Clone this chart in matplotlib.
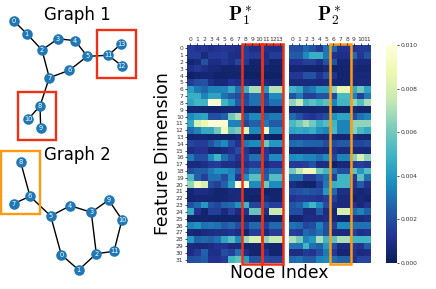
import numpy as np
import matplotlib
matplotlib.use('Agg')
import matplotlib.pyplot as plt
from matplotlib.patches import Rectangle

plt.rcParams['mathtext.fontset'] = 'cm'

# node layouts, in image pixels
g1_pos = {0: (14, 21), 1: (26.7, 33.7), 2: (42, 50), 3: (58, 38.7), 4: (75, 40.7),
          5: (87.3, 56.3), 6: (69.3, 70.3), 7: (49.3, 77.7), 8: (40, 106), 9: (40.7, 128.3),
          10: (28.3, 119), 11: (108.3, 55.3), 12: (121.7, 65.7), 13: (121.3, 43.7)}
g1_edges = [(0, 1), (1, 2), (2, 3), (3, 4), (4, 5), (5, 6), (6, 7), (7, 2), (7, 8),
            (8, 9), (8, 10), (5, 11), (11, 12), (11, 13)]

g2_pos = {0: (61.3, 254.7), 1: (78.7, 270), 2: (96.3, 253.7), 3: (91.3, 212.3), 4: (70.3, 205.7),
          5: (50.7, 216), 6: (30, 196.3), 7: (13.7, 203.7), 8: (20.7, 162.3), 9: (108.7, 200),
          10: (122, 219.7), 11: (114, 251.3)}
g2_edges = [(8, 6), (6, 7), (6, 5), (5, 4), (4, 3), (3, 9), (9, 10), (10, 11), (11, 2),
            (2, 3), (2, 1), (1, 0), (0, 5)]

# values in units of 1e-3
p1 = [
    [1.5, 1.2, 1.3, 1.0, 1.2, 1.3, 1.2, 1.0, 1.5, 1.0, 1.0, 1.2, 1.0, 1.0],
    [1.5, 1.5, 0.8, 1.4, 1.4, 1.5, 1.0, 0.9, 1.6, 1.4, 1.4, 0.9, 1.5, 1.5],
    [0.6, 0.8, 2.2, 0.9, 0.9, 1.3, 1.0, 1.8, 1.3, 0.5, 0.5, 1.0, 0.5, 0.5],
    [1.0, 1.3, 1.0, 0.7, 0.7, 0.5, 0.5, 0.6, 0.4, 0.4, 0.4, 0.5, 0.4, 0.4],
    [0.3, 0.5, 0.6, 0.6, 0.4, 0.4, 0.5, 0.5, 0.3, 0.3, 0.3, 0.3, 0.3, 0.3],
    [1.5, 2.0, 2.2, 1.0, 0.7, 0.7, 1.2, 1.0, 0.8, 0.6, 0.6, 0.8, 0.6, 0.6],
    [4.2, 3.2, 2.7, 3.4, 3.4, 3.5, 4.6, 3.0, 4.8, 7.0, 7.0, 4.0, 7.2, 7.2],
    [4.8, 4.8, 3.4, 4.4, 4.4, 3.0, 2.4, 2.0, 1.8, 3.0, 3.0, 1.8, 3.6, 3.6],
    [4.4, 5.0, 5.0, 9.8, 9.8, 5.0, 4.0, 2.4, 2.0, 3.0, 3.0, 2.0, 3.0, 3.0],
    [0.6, 0.6, 0.5, 0.5, 0.5, 0.5, 0.6, 0.6, 0.4, 0.3, 0.3, 0.4, 0.3, 0.3],
    [3.6, 4.2, 4.4, 2.0, 2.0, 2.6, 6.0, 7.0, 2.5, 3.6, 3.6, 2.8, 3.2, 3.2],
    [4.5, 8.0, 8.8, 9.8, 9.8, 9.6, 3.4, 3.4, 1.8, 2.6, 2.6, 3.2, 2.4, 2.4],
    [2.8, 3.4, 4.6, 4.6, 6.0, 9.0, 5.6, 6.2, 8.4, 3.6, 3.6, 9.0, 3.6, 3.6],
    [0.5, 0.6, 0.6, 0.5, 0.5, 0.4, 0.4, 0.6, 0.4, 0.3, 0.3, 0.5, 0.3, 0.3],
    [1.8, 1.5, 1.5, 2.2, 3.0, 3.6, 2.0, 1.2, 3.2, 3.6, 3.6, 6.0, 4.0, 4.0],
    [0.9, 1.2, 1.2, 0.6, 0.6, 0.8, 1.2, 2.0, 1.3, 0.6, 0.6, 1.3, 0.8, 0.8],
    [3.2, 2.0, 2.0, 3.6, 5.0, 3.0, 2.0, 1.2, 1.6, 3.0, 3.0, 1.6, 3.6, 3.6],
    [0.8, 0.8, 1.0, 1.4, 1.5, 1.0, 1.0, 0.8, 1.2, 1.5, 1.5, 0.8, 1.2, 1.2],
    [2.0, 2.5, 2.5, 3.2, 3.8, 3.8, 3.4, 2.4, 2.2, 3.2, 3.2, 2.2, 2.8, 2.8],
    [5.2, 2.6, 1.6, 3.0, 3.0, 2.0, 3.6, 1.2, 3.6, 5.5, 5.5, 2.5, 5.4, 5.4],
    [6.6, 9.0, 8.0, 2.0, 1.6, 2.6, 4.2, 9.8, 9.6, 3.6, 3.6, 6.0, 3.6, 3.6],
    [0.6, 0.9, 0.9, 0.7, 0.5, 0.5, 0.8, 0.8, 0.5, 0.6, 0.6, 0.4, 0.5, 0.5],
    [0.5, 0.6, 0.6, 0.6, 0.5, 0.6, 0.7, 0.8, 0.5, 0.4, 0.4, 0.8, 0.5, 0.5],
    [2.2, 2.8, 4.0, 2.2, 1.8, 2.6, 2.8, 3.8, 5.0, 1.8, 1.8, 2.2, 1.6, 1.6],
    [4.6, 1.2, 0.5, 1.6, 1.6, 0.8, 1.6, 0.8, 1.2, 5.8, 5.8, 1.0, 7.6, 7.6],
    [0.4, 0.4, 0.5, 0.4, 0.4, 0.4, 0.4, 0.4, 0.5, 0.4, 0.4, 0.4, 0.4, 0.4],
    [3.4, 3.8, 3.0, 3.2, 3.0, 2.4, 2.8, 2.0, 1.6, 2.8, 2.8, 1.6, 2.8, 2.8],
    [0.7, 0.6, 0.8, 0.9, 1.0, 1.0, 1.2, 0.9, 0.5, 1.5, 1.5, 0.8, 1.5, 1.5],
    [4.0, 2.6, 2.8, 2.6, 3.0, 4.4, 5.4, 3.6, 6.8, 8.0, 8.0, 6.6, 7.6, 7.6],
    [0.8, 0.7, 0.7, 0.9, 1.2, 1.2, 0.8, 0.8, 0.5, 0.5, 0.5, 0.7, 0.5, 0.5],
    [0.9, 1.4, 2.6, 1.0, 1.0, 2.0, 1.6, 3.0, 1.0, 0.5, 0.5, 1.2, 0.5, 0.5],
    [2.0, 2.2, 2.4, 1.2, 1.2, 1.5, 5.0, 5.6, 4.2, 2.2, 2.2, 2.0, 1.8, 1.8],
]

p2 = [
    [2.0, 2.0, 2.8, 2.2, 1.4, 3.0, 2.8, 1.2, 1.2, 1.2, 1.4, 1.4],
    [2.4, 2.4, 3.6, 4.8, 4.8, 3.2, 1.2, 1.0, 1.0, 2.8, 1.3, 2.2],
    [1.2, 1.2, 1.6, 1.6, 1.0, 2.2, 2.2, 0.6, 0.6, 1.0, 0.8, 0.8],
    [0.6, 0.6, 0.5, 0.5, 0.4, 0.7, 0.4, 0.5, 0.5, 0.7, 0.6, 0.6],
    [1.3, 1.3, 2.2, 2.2, 1.2, 2.0, 1.2, 0.5, 0.5, 0.8, 0.7, 0.7],
    [0.8, 0.8, 0.8, 0.8, 0.7, 0.8, 0.6, 0.5, 0.5, 0.7, 0.8, 0.8],
    [5.0, 4.5, 2.8, 3.2, 4.2, 4.2, 6.6, 8.6, 8.6, 4.6, 6.0, 4.4],
    [2.2, 3.2, 1.6, 1.6, 2.2, 2.2, 1.8, 5.2, 5.2, 3.4, 1.6, 3.2],
    [6.6, 7.6, 5.0, 5.6, 5.0, 5.6, 3.4, 5.0, 5.0, 6.6, 5.4, 7.0],
    [0.5, 0.5, 0.5, 0.5, 0.6, 0.6, 0.3, 0.4, 0.4, 0.7, 0.5, 0.5],
    [2.8, 2.2, 1.4, 1.2, 1.6, 2.0, 3.8, 4.4, 4.4, 2.0, 3.0, 3.4],
    [5.2, 6.0, 7.0, 6.0, 4.8, 5.4, 5.0, 3.4, 3.4, 6.6, 6.6, 6.6],
    [4.4, 4.6, 4.4, 4.8, 3.8, 3.4, 5.2, 3.4, 3.4, 6.4, 5.2, 4.6],
    [1.0, 1.0, 1.0, 1.0, 0.8, 0.8, 0.7, 0.6, 0.6, 0.8, 0.6, 0.6],
    [2.8, 3.0, 2.6, 2.6, 2.6, 2.0, 2.0, 2.4, 2.4, 1.8, 1.8, 2.0],
    [0.6, 0.6, 0.6, 0.6, 0.7, 0.7, 1.2, 0.8, 0.8, 0.7, 0.7, 0.7],
    [3.6, 3.8, 3.4, 3.4, 3.0, 3.6, 1.8, 3.4, 3.4, 6.4, 8.0, 6.6],
    [1.4, 1.4, 1.6, 2.2, 0.9, 1.0, 0.3, 0.7, 0.7, 1.4, 1.6, 1.3],
    [6.0, 7.4, 9.0, 9.0, 6.0, 5.0, 3.0, 2.0, 2.0, 5.6, 4.0, 5.4],
    [3.0, 3.0, 1.5, 1.5, 2.4, 3.0, 1.6, 5.0, 5.0, 1.5, 5.6, 3.0],
    [0.9, 0.6, 0.4, 0.4, 1.4, 3.2, 4.8, 5.0, 5.0, 1.2, 2.4, 1.2],
    [2.0, 2.2, 2.4, 2.2, 2.0, 4.0, 2.8, 1.0, 1.0, 0.8, 0.6, 0.8],
    [1.2, 1.4, 1.4, 1.3, 1.1, 1.6, 1.6, 0.8, 0.8, 0.5, 0.7, 0.5],
    [2.2, 2.6, 3.8, 5.0, 3.6, 2.0, 1.0, 0.8, 0.8, 1.2, 0.7, 1.2],
    [2.0, 2.0, 0.8, 0.8, 2.4, 0.9, 0.6, 8.0, 8.0, 2.8, 3.4, 2.6],
    [0.5, 0.5, 0.9, 0.9, 0.9, 1.0, 0.7, 0.4, 0.4, 1.0, 0.8, 1.0],
    [3.0, 2.8, 1.8, 2.0, 3.4, 2.0, 1.6, 3.6, 3.6, 3.0, 3.0, 3.0],
    [1.6, 1.4, 2.8, 2.4, 3.0, 2.0, 0.8, 0.8, 0.8, 1.6, 1.0, 1.2],
    [7.0, 6.0, 3.4, 4.0, 7.0, 5.0, 5.6, 7.0, 7.0, 5.0, 5.0, 5.0],
    [3.0, 3.0, 5.0, 3.0, 2.6, 4.0, 2.0, 0.8, 0.8, 1.4, 1.2, 2.4],
    [0.9, 0.9, 1.4, 1.2, 2.0, 3.2, 1.4, 0.6, 0.6, 1.2, 0.8, 0.9],
    [2.8, 3.0, 2.4, 2.4, 3.4, 3.6, 3.0, 2.6, 2.6, 1.2, 1.8, 1.8],
]

W, H = 436, 289
fig = plt.figure(figsize=(W / 100, H / 100), dpi=100)


def px_axes(x0, y0, x1, y1):
    return fig.add_axes([x0 / W, 1 - y1 / H, (x1 - x0) / W, (y1 - y0) / H])


# graphs on the left, drawn in pixel coordinates
bg = fig.add_axes([0, 0, 1, 1])
bg.set_xlim(0, W)
bg.set_ylim(H, 0)
bg.axis('off')


def draw_graph(pos, edges):
    for a, b in edges:
        bg.plot([pos[a][0], pos[b][0]], [pos[a][1], pos[b][1]], color='black', lw=1.0, zorder=1)
    for n, (x, y) in pos.items():
        bg.scatter(x, y, s=58, color='#1f78b4', linewidths=0, zorder=2)
        bg.text(x, y, str(n), color='white', fontsize=4.8, ha='center', va='center', zorder=3)


draw_graph(g1_pos, g1_edges)
draw_graph(g2_pos, g2_edges)

bg.add_patch(Rectangle((97.3, 30.3), 39, 47.7, fill=False, ec='#f03015', lw=1.7))
bg.add_patch(Rectangle((17.7, 92.3), 38.6, 47.7, fill=False, ec='#f03015', lw=1.7))
bg.add_patch(Rectangle((1.3, 151.3), 39, 62.4, fill=False, ec='#ff9a10', lw=1.7))

bg.text(77, 15.5, 'Graph 1', fontsize=12, ha='center', va='center')
bg.text(77, 155.5, 'Graph 2', fontsize=12, ha='center', va='center')
bg.text(240, 16, r'$\mathbf{P}_1^*$', fontsize=14, ha='center', va='center')
bg.text(329, 16, r'$\mathbf{P}_2^*$', fontsize=14, ha='center', va='center')
bg.text(163, 154, 'Feature Dimension', fontsize=12.4, rotation=90, ha='center', va='center')
bg.text(279, 273, 'Node Index', fontsize=12.4, ha='center', va='center')

# heatmaps
ax1 = px_axes(187, 45, 283, 263)
ax2 = px_axes(289, 45, 371, 263)
for ax, data in ((ax1, p1), (ax2, p2)):
    arr = np.array(data) / 1000
    im = ax.imshow(arr, cmap='YlGnBu_r', vmin=0, vmax=0.01, aspect='auto')
    ax.xaxis.tick_top()
    ax.set_xticks(range(arr.shape[1]))
    ax.tick_params(axis='both', labelsize=4.3, length=1.5, width=0.5, pad=1, labelcolor='#333333')
    for s in ax.spines.values():
        s.set_visible(False)
ax1.set_yticks(range(32))
ax2.set_yticks([])

# highlighted columns
ax1.add_patch(Rectangle((7.5, -0.6), 3, 32.2, fill=False, ec='#f03015', lw=1.8, clip_on=False))
ax1.add_patch(Rectangle((10.5, -0.6), 3, 32.2, fill=False, ec='#f03015', lw=1.8, clip_on=False))
ax2.add_patch(Rectangle((5.5, -0.6), 3, 32.2, fill=False, ec='#ff9a10', lw=1.8, clip_on=False))

# colorbar
cax = px_axes(385.7, 45, 396.7, 263)
cb = fig.colorbar(im, cax=cax)
cb.set_ticks([0, 0.002, 0.004, 0.006, 0.008, 0.01])
cb.ax.set_yticklabels(['0.000', '0.002', '0.004', '0.006', '0.008', '0.010'])
cb.ax.tick_params(labelsize=4.3, length=1.5, width=0.5, pad=1, labelcolor='#333333')
cb.outline.set_visible(False)

fig.savefig('out.png', dpi=100)
